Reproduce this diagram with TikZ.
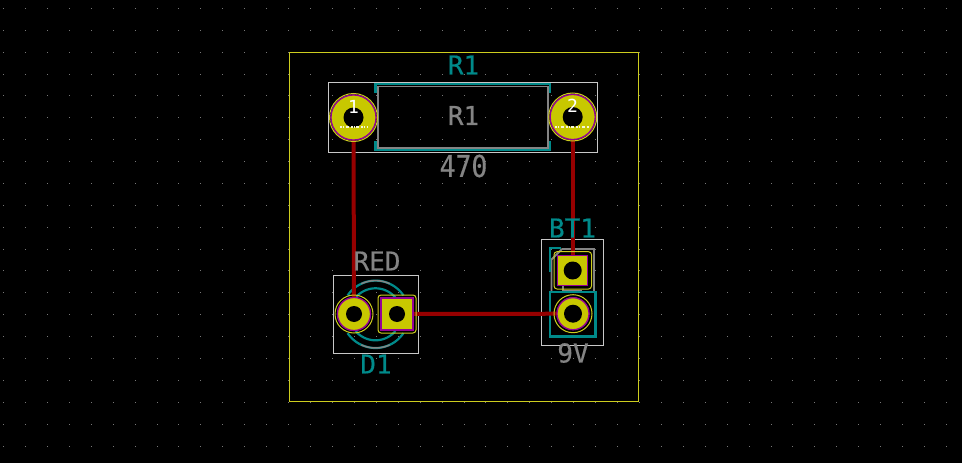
\documentclass[tikz,border=0pt]{standalone}
\usepackage{fontspec}
\setmainfont{DejaVu Sans Mono}
\newfontfamily\kfont[FakeBold=0.5]{DejaVu Sans Mono}
\newfontfamily\kfontw[FakeBold=0.5,FakeStretch=0.88]{DejaVu Sans Mono}
\definecolor{padyellow}{RGB}{200,200,0}
\definecolor{edgeyellow}{RGB}{205,205,30}
\definecolor{silk}{RGB}{0,138,138}
\definecolor{fab}{RGB}{132,132,132}
\definecolor{court}{RGB}{200,200,200}
\definecolor{trace}{RGB}{150,0,0}
\definecolor{mag}{RGB}{150,0,150}
\definecolor{griddot}{RGB}{120,120,120}
\tikzset{
  x=1pt,y=-1pt,
  courtyard/.style={draw=court,line width=0.9pt},
  silkline/.style={draw=silk,line width=2.2pt},
  fabline/.style={draw=fab,line width=1.8pt},
  tracewire/.style={draw=trace,line width=4pt},
  roundpad/.style={circle,fill=padyellow,draw=mag,line width=1.2pt,inner sep=0pt,minimum size=#1},
  squarepad/.style={rectangle,fill=padyellow,draw=mag,line width=1.2pt,inner sep=0pt,minimum size=#1},
  padclear/.style={draw=edgeyellow,line width=1pt},
  hole/.style={fill=black,draw=none},
  silktext/.style={text=silk,inner sep=0pt,font=\kfont\fontsize{26}{26}\selectfont},
  fabtext/.style={text=fab,inner sep=0pt,font=\kfont\fontsize{26}{26}\selectfont},
  padnum/.style={text=white,inner sep=0pt,font=\fontsize{18}{18}\selectfont},
  netmark/.style={draw=white!85!padyellow,line width=1.6pt,dash pattern=on 2pt off 1.2pt on 1pt off 1.4pt on 3pt off 2pt}
}
\begin{document}
\begin{tikzpicture}
\useasboundingbox (0,0) rectangle (962,463);
\fill[black] (0,0) rectangle (962,463);
% grid
\foreach \i in {0,...,43}{\foreach \j in {0,...,20}{
  \fill[griddot] ({3+21.93*\i},{7.9+21.88*\j}) rectangle +(1,1);
}}
% board outline
\draw[draw=edgeyellow,line width=0.9pt] (289,52) rectangle (638,401);
% courtyards
\draw[courtyard] (328.5,82.5) rectangle (597.5,152);
\draw[courtyard] (333.5,275.5) rectangle (418,353);
\draw[courtyard] (541.5,239.5) rectangle (603.5,345.5);
% R1 body
\draw[silkline] (375.5,93) -- (375.5,84) -- (550,84) -- (550,93);
\draw[silkline] (375.5,141) -- (375.5,150) -- (550,150) -- (550,141);
\draw[fabline] (378,86.5) rectangle (548,148);
% D1 body
\draw[silkline] plot[smooth,samples=30,domain=34:146] ({375.5+33.7*cos(\x)},{314.3-33.7*sin(\x)});
\draw[silkline] plot[smooth,samples=30,domain=34:146] ({375.5+33.7*cos(\x)},{314.3+33.7*sin(\x)});
\draw[silkline] plot[smooth,samples=30,domain=40:140] ({375.5+26*cos(\x)},{314.3-26*sin(\x)});
\draw[silkline] plot[smooth,samples=30,domain=40:140] ({375.5+26*cos(\x)},{314.3+26*sin(\x)});
\draw[fabline,line width=1.5pt] plot[smooth,samples=12,domain=65:115] ({375.5+33.7*cos(\x)},{314.3-33.7*sin(\x)});
\draw[fabline,line width=1.5pt] plot[smooth,samples=12,domain=65:115] ({375.5+33.7*cos(\x)},{314.3+33.7*sin(\x)});
% BT1 body
\draw[fabline] (562,249) -- (594,249) -- (594,292);
\draw[fabline] (562,249) -- (551.5,259.5) -- (551.5,292);
\draw[fabline] (563,285) -- (563,292);
\draw[fabline] (563,291) -- (582,291);
\draw[silkline] (550,272) -- (550,248) -- (561,248);
\draw[silkline] (550,292) rectangle (595.5,336.5);
% pads
\node[roundpad=45pt] (P1) at (353.5,117.5) {};
\node[roundpad=45pt] (P2) at (572.7,117) {};
\node[roundpad=33pt] (D1a) at (354,314) {};
\node[squarepad=32pt] (D1k) at (397,314) {};
\node[squarepad=30pt] (B1) at (572.7,270.5) {};
\node[roundpad=32pt] (B2) at (573,313.7) {};
% connectors
\draw[tracewire] (P1.center) -- (D1a.center);
\draw[tracewire] (D1k.center) -- (B2.center);
\draw[tracewire] (P2.center) -- (B1.center);
% pads above the traces
\node[roundpad=45pt] at (P1) {};
\node[roundpad=45pt] at (P2) {};
\node[roundpad=33pt] at (D1a) {};
\node[squarepad=32pt] at (D1k) {};
\node[squarepad=30pt] at (B1) {};
\node[roundpad=32pt] at (B2) {};
\draw[padclear] (P1) circle (24);
\draw[padclear] (P2) circle (24);
\draw[padclear] (D1a) circle (19);
\draw[padclear,rounded corners=3pt] (378,295) rectangle (416,333);
\draw[padclear,rounded corners=3pt] (554,251.7) rectangle (591.5,289);
\draw[padclear] (B2) circle (19);
\fill[hole] (P1) circle (10);
\fill[hole] (P2) circle (10);
\fill[hole] (D1a) circle (8);
\fill[hole] (D1k) circle (8);
\fill[hole] (B1) circle (9);
\fill[hole] (B2) circle (9);
% pad text
\node[padnum] (n1) at (353.5,107) {1};
\node[padnum] (n2) at (572.5,106) {2};
\draw[netmark] (340,127) -- (368,127);
\draw[netmark] (555,127) -- (590,127);
% labels
\node[silktext] (tR1) at (463.5,65) {R1};
\node[fabtext] (fR1) at (463.5,115.5) {R1};
\node[fabtext,font=\kfontw\fontsize{30}{30}\selectfont] (t470) at (463.5,166) {470};
\node[fabtext] (tRED) at (377,261) {RED};
\node[silktext] (tD1) at (376,364) {D1};
\node[silktext] (tBT1) at (572.5,228) {BT1};
\node[fabtext] (t9V) at (573,353) {9V};
\end{tikzpicture}
\end{document}
